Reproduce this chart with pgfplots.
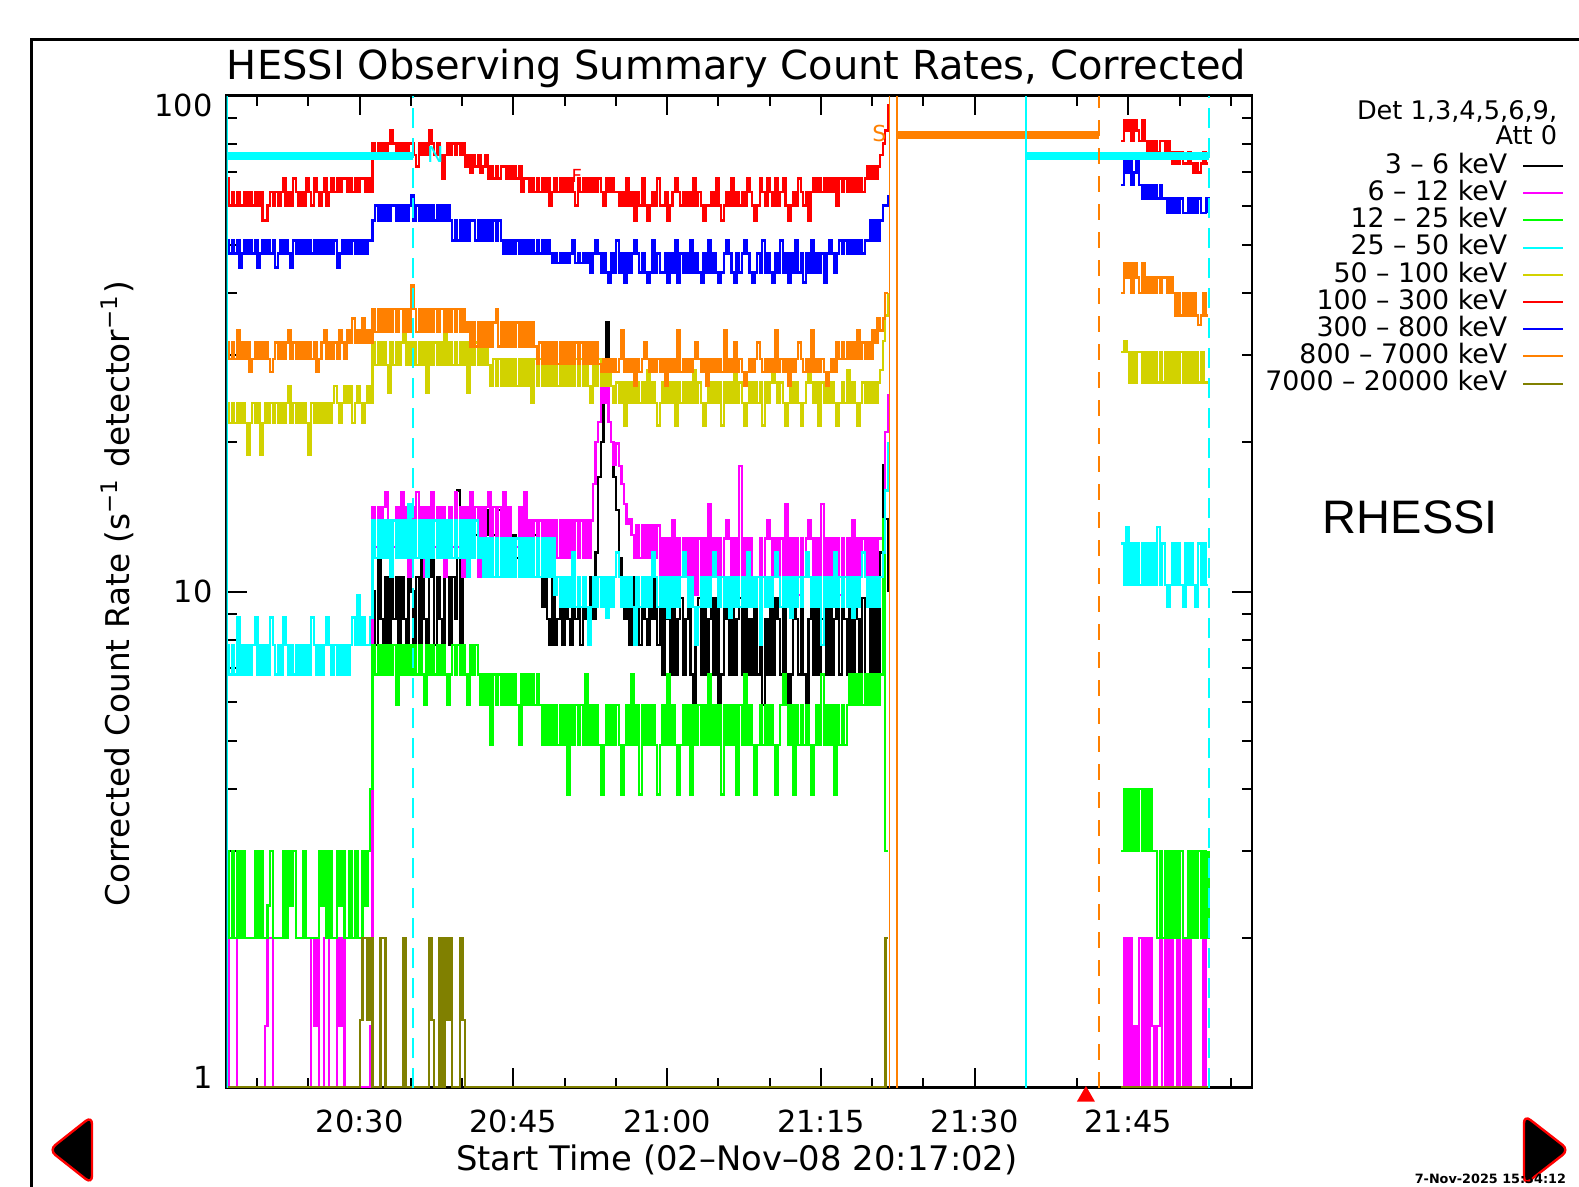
\documentclass[border=0pt]{standalone}
\usepackage{pgfplots}
\pgfplotsset{compat=1.18}
\usepackage{fontspec}
\setmainfont{DejaVu Sans}
\newfontfamily\rhfont{Liberation Sans}
\definecolor{hred}{RGB}{255,0,0}
\definecolor{hblue}{RGB}{0,0,255}
\definecolor{horange}{RGB}{255,128,0}
\definecolor{hyellow}{RGB}{210,210,0}
\definecolor{hcyan}{RGB}{0,255,255}
\definecolor{hmag}{RGB}{255,0,255}
\definecolor{hgreen}{RGB}{0,255,0}
\definecolor{holive}{RGB}{128,128,0}
\begin{document}
\begin{tikzpicture}
\useasboundingbox (0,0) rectangle (394.75pt,296.75pt);
\begin{scope}[x=0.25pt,y=0.25pt]
% outer frame
\draw[line width=0.75pt] (31,-10) -- (31,1147) -- (1600,1147);
% title and labels
\node[anchor=base,inner sep=0pt,font=\fontsize{10}{12}\selectfont] at (736.5,1107) {HESSI Observing Summary Count Rates, Corrected};
\node[anchor=base,inner sep=0pt,font=\fontsize{8.45}{10}\selectfont] at (737,16) {Start Time (02–Nov–08 20:17:02)};
\node[anchor=base,rotate=90,inner sep=0pt,font=\fontsize{8.17}{10}\selectfont] at (129,593) {Corrected Count Rate (s\textsuperscript{−1} detector\textsuperscript{−1})};
% legend
\node[anchor=base east,inner sep=0pt,font=\fontsize{6.4}{7}\selectfont] at (1558,1067) {Det 1,3,4,5,6,9,};
\node[anchor=base east,inner sep=0pt,font=\fontsize{6.4}{7}\selectfont] at (1558,1042) {Att 0};
\foreach \lab/\col [count=\k from 0] in {3 – 6 keV/black,6 – 12 keV/hmag,12 – 25 keV/hgreen,25 – 50 keV/hcyan,50 – 100 keV/hyellow,100 – 300 keV/hred,300 – 800 keV/hblue,800 – 7000 keV/horange,7000 – 20000 keV/holive}{
  \pgfmathsetmacro{\ly}{1187-166-27.2*\k}
  \node[anchor=base east,inner sep=0pt,font=\fontsize{6.7}{7}\selectfont] at (1508,\ly-7.3) {\lab};
  \draw[\col,line width=0.5pt] (1523,\ly) -- (1563,\ly);
}
\node[anchor=base west,inner sep=0pt,font=\rhfont\fontsize{11.75}{13}\selectfont] at (1322,653.3) {RHESSI};
% navigation arrows
\draw[hred,line width=0.6pt,fill=black,rounded corners=2pt] (92,71) -- (49,37) -- (92,3) -- cycle;
\draw[hred,line width=0.6pt,fill=black,rounded corners=2pt] (1524,72) -- (1569,37) -- (1524,2) -- cycle;
\node[anchor=base west,inner sep=0pt,font=\fontsize{3.2}{4}\selectfont\bfseries] at (1414,3) {7-Nov-2025 15:34:12};
\end{scope}
\begin{axis}[
  at={(56.65pt,24.85pt)}, anchor=south west,
  scale only axis, width=256.3pt, height=248pt,
  xmin=17.03, xmax=117.03, ymode=log, ymin=1, ymax=100,
  xtick={30,45,60,75,90,105},
  xticklabels={20:30,20:45,21:00,21:15,21:30,21:45},
  minor xtick={20,25,35,40,50,55,65,70,80,85,95,100,110,115},
  ytick={1,10,100},
  yticklabels={\raisebox{2.5pt}[\height][\depth]{1},10,\raisebox{-2.5pt}[\height][\depth]{100}},
  minor ytick={2,3,4,5,6,7,8,9,20,30,40,50,60,70,80,90},
  tick align=inside, tick pos=both,
  xticklabel pos=lower, yticklabel pos=left,
  major tick length=5pt, minor tick length=2.5pt,
  every tick/.append style={black,line width=0.5pt},
  axis line style={line width=0.55pt},
  ticklabel style={font=\fontsize{7.6}{8}\selectfont},
  xticklabel style={yshift=-2pt},
  every axis plot/.append style={line width=0.6pt},
]
% 3-6 keV (black), from 31.28
\addplot[const plot,black] table[row sep=\\,header=false,x expr=31.28+0.25*\coordindex,y index=0]{
10\\7.8\\11.7\\8.8\\7.8\\10.7\\7.8\\11.7\\8.8\\10.7\\
7.8\\10.7\\8.8\\7.8\\11.7\\10\\7.8\\10.7\\7.8\\11.7\\
8.8\\7.8\\10.7\\11.7\\7.8\\10.7\\8.8\\7.8\\11.7\\10.7\\
7.8\\10.7\\8.8\\16\\7.8\\11.7\\13\\11.7\\14.6\\11.7\\
13\\11.7\\14.6\\11.7\\13\\14.6\\11.7\\13\\11.7\\14.6\\
11.7\\13\\11.7\\14.6\\10.7\\13\\11.7\\14.6\\13\\11.7\\
13\\11.7\\10.7\\13\\11.7\\10.7\\9.3\\10.7\\8.8\\7.8\\
10.7\\7.8\\8.8\\10.7\\7.8\\10.7\\8.8\\7.8\\10.7\\8.8\\
10.7\\7.8\\10.7\\8.8\\7.8\\10.7\\8.8\\12\\17\\20\\
24\\35\\22\\20\\17\\14.6\\11.7\\10.7\\8.8\\10.7\\
7.8\\10.7\\8.8\\10.7\\7.8\\10.7\\8.8\\7.8\\10.7\\8.8\\
10.7\\7.8\\9.7\\6.8\\9.7\\8.8\\6.8\\9.7\\6.8\\8.8\\
9.7\\6.8\\8.8\\9.7\\6.8\\5.9\\8.8\\9.7\\6.8\\9.7\\
6.8\\8.8\\9.7\\6.8\\9.7\\5.9\\6.8\\9.7\\8.8\\6.8\\
9.7\\6.8\\8.8\\9.7\\6.8\\9.7\\6.8\\8.8\\6.8\\9.7\\
6.8\\9.7\\5.9\\8.8\\6.8\\9.7\\6.8\\9.7\\8.8\\6.8\\
9.7\\6.8\\5.9\\6.8\\9.7\\8.8\\6.8\\9.7\\6.8\\5.9\\
8.8\\9.7\\6.8\\9.7\\6.8\\8.8\\9.7\\6.8\\9.7\\6.8\\
8.8\\9.7\\6.8\\9.7\\8.8\\6.8\\9.7\\6.8\\9.7\\8.8\\
6.8\\9.7\\6.8\\5.9\\9.7\\6.8\\9.7\\6.8\\12\\18\\
14\\10\\
};
% 6-12 keV (magenta)
\addplot[const plot,hmag] table[row sep=\\,header=false,x expr=17.03+0.25*\coordindex,y index=0]{
1\\2\\2\\2\\1\\1\\1\\1\\1\\1\\
1\\1\\1\\1\\1\\1.33\\2\\2\\1\\1\\
1\\1\\1\\1\\1\\1\\1\\1\\1\\1\\
1\\1\\1\\2\\1.33\\2\\1\\1\\2\\2\\
1\\1\\1\\2\\1.33\\2\\1\\1\\1\\1\\
1\\1\\1\\1\\1\\1\\1.33\\14.8\\12.3\\14.8\\
12.3\\14.8\\15.9\\12.3\\10.7\\12.3\\14.8\\12.3\\15.9\\12.3\\
14.8\\10.7\\14.8\\12.3\\15.9\\12.3\\14.8\\10.7\\14.8\\12.3\\
15.9\\12.3\\14.8\\12.3\\14.8\\10.7\\12.3\\14.8\\12.3\\15.9\\
12.3\\14.8\\10.7\\14.8\\12.3\\15.9\\12.3\\14.8\\10.7\\14.8\\
12.3\\14.8\\15.9\\12.3\\14.8\\10.7\\14.8\\12.3\\15.9\\12.3\\
14.8\\12.3\\10.7\\12.3\\14.8\\12.3\\15.9\\12.3\\13.9\\11.7\\
13.9\\11.7\\13.9\\11.7\\13.9\\11.7\\13.9\\11.7\\13.9\\11.7\\
13.9\\11.7\\13.9\\11.7\\13.9\\11.7\\13.9\\11.7\\13.9\\11.7\\
13.9\\11.7\\13.9\\16.5\\20\\22\\26\\24\\26\\22\\
20\\18\\19.9\\17.9\\16.5\\15\\13.7\\14\\13\\11.7\\
13.6\\11.7\\13.6\\11.7\\13.6\\11.7\\13.6\\11.7\\13.6\\10.7\\
12.8\\10.7\\12.8\\10.7\\13.9\\10.7\\12.8\\10.7\\12.8\\10.7\\
12.8\\10.7\\12.8\\9.85\\12.8\\10.7\\12.8\\10.7\\15\\10.7\\
12.8\\10.7\\12.8\\10.7\\12.8\\13.9\\12.8\\10.7\\12.8\\10.7\\
17.9\\10.7\\12.8\\10.7\\12.8\\10.7\\9.85\\10.7\\12.8\\10.7\\
12.8\\13.9\\12.8\\10.7\\12.8\\10.7\\12.8\\10.7\\15\\10.7\\
12.8\\10.7\\12.8\\9.85\\12.8\\10.7\\12.8\\13.9\\12.8\\10.7\\
12.8\\10.7\\15\\10.7\\12.8\\10.7\\12.8\\10.7\\12.8\\9.85\\
12.8\\10.7\\12.8\\10.7\\13.9\\10.7\\12.8\\10.7\\12.8\\10.7\\
12.8\\10.7\\12.8\\10.7\\12.8\\12.8\\14\\21\\25\\
};
\addplot[const plot,hmag] table[row sep=\\,header=false,x expr=104.3+0.25*\coordindex,y index=0]{
1\\2\\1\\2\\1\\1.33\\1\\2\\1\\2\\
1\\2\\1.33\\1\\1.33\\2\\1\\2\\1\\2\\
1\\1\\2\\1\\2\\1\\2\\1\\1\\1\\
1\\1\\2\\1\\1\\
};
% 12-25 keV (green)
\addplot[const plot,hgreen] table[row sep=\\,header=false,x expr=17.03+0.25*\coordindex,y index=0]{
3\\2\\3\\2\\3\\2\\3\\2\\2\\2\\
2\\3\\2\\3\\2\\2\\2.33\\3\\2\\2\\
2\\2\\3\\2\\3\\2.33\\3\\2\\2\\2\\
3\\2\\2\\2\\2\\2\\3\\2.33\\3\\2\\
3\\2\\2\\3\\2.33\\3\\2\\2\\3\\2\\
3\\2\\2\\3\\2.33\\3\\4\\7.8\\6.8\\7.8\\
6.8\\7.8\\6.8\\7.8\\6.8\\7.8\\5.9\\7.8\\6.8\\7.8\\
6.8\\7.8\\6.8\\7.8\\6.8\\7.8\\6.8\\5.9\\7.8\\6.8\\
7.8\\6.8\\7.8\\6.8\\7.8\\6.8\\5.9\\6.8\\7.8\\6.8\\
7.8\\6.8\\7.8\\6.8\\5.9\\7.8\\6.8\\7.8\\6.8\\5.9\\
6.8\\5.9\\6.8\\4.9\\6.8\\5.9\\6.8\\5.9\\6.8\\5.9\\
6.8\\5.9\\6.8\\5.9\\4.9\\6.8\\5.9\\6.8\\5.9\\6.8\\
5.9\\6.8\\5.9\\4.9\\5.9\\4.9\\5.9\\4.9\\5.9\\4.9\\
5.9\\4.9\\5.9\\3.9\\5.9\\4.9\\5.9\\4.9\\5.9\\4.9\\
6.8\\4.9\\5.9\\4.9\\5.9\\4.9\\3.9\\4.9\\5.9\\4.9\\
5.9\\4.9\\5.9\\4.9\\3.9\\4.9\\5.9\\4.9\\6.8\\4.9\\
5.9\\3.9\\5.9\\4.9\\5.9\\4.9\\5.9\\4.9\\3.9\\4.9\\
5.9\\4.9\\6.8\\4.9\\5.9\\4.9\\3.9\\4.9\\5.9\\4.9\\
5.9\\3.9\\5.9\\4.9\\5.9\\4.9\\5.9\\4.9\\6.8\\4.9\\
5.9\\4.9\\5.9\\3.9\\5.9\\4.9\\5.9\\4.9\\5.9\\3.9\\
5.9\\4.9\\6.8\\4.9\\5.9\\4.9\\3.9\\4.9\\5.9\\4.9\\
5.9\\4.9\\5.9\\4.9\\3.9\\4.9\\5.9\\6.8\\5.9\\4.9\\
5.9\\3.9\\5.9\\4.9\\5.9\\4.9\\5.9\\4.9\\3.9\\4.9\\
5.9\\4.9\\6.8\\4.9\\5.9\\4.9\\5.9\\3.9\\5.9\\4.9\\
5.9\\4.9\\5.9\\6.8\\5.9\\6.8\\5.9\\6.8\\5.9\\6.8\\
5.9\\6.8\\5.9\\6.8\\5.9\\6.8\\14\\3\\3\\
};
\addplot[const plot,hgreen] table[row sep=\\,header=false,x expr=104.3+0.25*\coordindex,y index=0]{
3\\4\\3\\4\\3\\4\\3\\4\\3\\4\\
3\\4\\3\\3\\2\\3\\2\\3\\2\\3\\
2\\3\\2\\3\\2\\2\\3\\2\\3\\2\\
3\\2\\3\\2\\3\\
};
% 25-50 keV (cyan)
\addplot[const plot,hcyan] table[row sep=\\,header=false,x expr=17.03+0.25*\coordindex,y index=0]{
7.8\\6.8\\7.8\\6.8\\8.86\\6.8\\7.8\\6.8\\7.8\\6.8\\
7.8\\8.86\\6.8\\7.8\\6.8\\7.8\\6.8\\8.86\\7.8\\6.8\\
7.8\\6.8\\8.86\\7.8\\6.8\\7.8\\6.8\\7.8\\6.8\\7.8\\
6.8\\7.8\\6.8\\8.86\\7.8\\6.8\\7.8\\6.8\\7.8\\8.86\\
7.8\\6.8\\7.8\\6.8\\7.8\\6.8\\7.8\\6.8\\7.8\\8.86\\
7.8\\9.85\\7.8\\8.86\\7.8\\7.8\\8.86\\13.9\\11.7\\13.9\\
11.7\\13.9\\11.7\\13.9\\10.7\\13.9\\11.7\\13.9\\11.7\\13.9\\
11.7\\15\\11.7\\13.9\\11.7\\13.9\\11.7\\13.9\\10.7\\13.9\\
11.7\\13.9\\11.7\\13.9\\11.7\\13.9\\11.7\\13.9\\11.7\\13.9\\
11.7\\13.9\\11.7\\13.9\\10.7\\13.9\\11.7\\13.9\\11.7\\12.8\\
10.7\\12.8\\10.7\\12.8\\10.7\\12.8\\10.7\\12.8\\10.7\\12.8\\
10.7\\12.8\\10.7\\12.8\\10.7\\12.8\\10.7\\12.8\\10.7\\12.8\\
10.7\\12.8\\10.7\\12.8\\10.7\\12.8\\10.7\\12.8\\9.85\\10.7\\
9.3\\10.7\\9.3\\10.7\\9.3\\12\\9.3\\10.7\\9.3\\10.7\\
9.3\\7.8\\9.3\\10.7\\9.3\\10.7\\9.3\\10.7\\8.86\\10.7\\
9.3\\10.7\\12\\10.7\\9.3\\10.7\\9.3\\10.7\\9.3\\7.8\\
10.7\\9.3\\10.7\\9.3\\10.7\\9.3\\12\\10.7\\9.3\\10.7\\
9.3\\10.7\\8.86\\10.7\\9.3\\10.7\\9.3\\10.7\\12\\10.7\\
9.3\\10.7\\9.3\\7.8\\9.3\\10.7\\9.3\\10.7\\9.3\\10.7\\
12\\10.7\\9.3\\10.7\\9.3\\10.7\\8.86\\10.7\\9.3\\10.7\\
9.3\\10.7\\9.3\\12\\9.3\\10.7\\9.3\\10.7\\7.8\\10.7\\
9.3\\10.7\\9.3\\10.7\\12\\10.7\\9.3\\10.7\\9.3\\10.7\\
8.86\\10.7\\9.3\\10.7\\9.3\\10.7\\12\\10.7\\9.3\\10.7\\
9.3\\10.7\\7.8\\10.7\\9.3\\10.7\\9.3\\12\\9.3\\10.7\\
9.3\\10.7\\9.3\\10.7\\8.86\\10.7\\9.3\\10.7\\12\\10.7\\
9.3\\10.7\\9.3\\10.7\\9.3\\10.7\\12\\16\\20\\
};
\addplot[const plot,hcyan] table[row sep=\\,header=false,x expr=104.3+0.25*\coordindex,y index=0]{
12.5\\10.3\\13.5\\10.3\\12.5\\10.3\\12.5\\10.3\\12.5\\10.3\\
12.5\\10.3\\12.5\\10.3\\13.5\\10.3\\12.5\\10.3\\9.3\\10.3\\
12.5\\10.3\\12.5\\10.3\\9.3\\12.5\\10.3\\12.5\\10.3\\9.3\\
12.5\\10.3\\12.5\\10.3\\10.3\\
};
% 50-100 keV (yellow)
\addplot[const plot,hyellow] table[row sep=\\,header=false,x expr=17.03+0.25*\coordindex,y index=0]{
24\\21.9\\24\\21.9\\24\\21.9\\24\\21.9\\18.9\\21.9\\
24\\21.9\\24\\18.9\\21.9\\24\\21.9\\24\\21.9\\24\\
21.9\\24\\21.9\\24\\26\\21.9\\24\\21.9\\24\\21.9\\
24\\21.9\\18.9\\24\\21.9\\24\\21.9\\24\\21.9\\24\\
21.9\\24\\26\\24\\21.9\\24\\26\\24\\26\\21.9\\
24\\26\\24\\21.9\\24\\26\\24\\31.8\\28.6\\31.8\\
28.6\\31.8\\28.6\\25.2\\31.8\\28.6\\31.8\\28.6\\31.8\\33.2\\
28.6\\31.8\\28.6\\31.8\\28.6\\31.8\\28.6\\31.8\\25.2\\31.8\\
28.6\\31.8\\28.6\\31.8\\28.6\\33.2\\28.6\\31.8\\28.6\\31.8\\
28.6\\31.8\\28.6\\31.8\\25.2\\31.8\\28.6\\31.8\\28.6\\31.8\\
28.6\\31.8\\28.6\\26\\29.4\\26\\29.4\\26\\29.4\\26\\
29.4\\26\\29.4\\26\\29.4\\26\\29.4\\26\\29.4\\24\\
29.4\\26\\29.4\\26\\29.4\\26\\29.4\\26\\29.4\\26\\
29.4\\26\\29.4\\26\\29.4\\26\\29.4\\26\\29.4\\26\\
29.4\\26\\24\\29.4\\26\\29.4\\26\\29.4\\26\\29.4\\
26\\24\\26.4\\24\\26.4\\21.6\\26.4\\24\\26.4\\24\\
26.4\\24\\26.4\\24\\28\\24\\26.4\\24\\21.6\\24\\
26.4\\24\\26.4\\24\\26.4\\21.6\\26.4\\24\\26.4\\24\\
26.4\\24\\28\\24\\26.4\\24\\21.6\\24\\26.4\\24\\
26.4\\24\\26.4\\21.6\\26.4\\24\\26.4\\24\\28\\24\\
26.4\\24\\21.6\\24\\26.4\\24\\26.4\\24\\26.4\\21.6\\
26.4\\24\\26.4\\28\\26.4\\24\\26.4\\24\\21.6\\24\\
26.4\\24\\26.4\\24\\21.6\\24\\26.4\\28\\26.4\\24\\
26.4\\21.6\\26.4\\24\\26.4\\24\\26.4\\24\\21.6\\24\\
26.4\\24\\28\\24\\26.4\\24\\21.6\\24\\26.4\\24\\
26.4\\24\\26.4\\24\\26.4\\28\\32\\36\\40\\
};
\addplot[const plot,hyellow] table[row sep=\\,header=false,x expr=104.3+0.25*\coordindex,y index=0]{
30.4\\32\\30.4\\26.4\\30.4\\26.4\\30.4\\30.4\\26.4\\30.4\\
26.4\\30.4\\26.4\\30.4\\26.4\\30.4\\26.4\\30.4\\26.4\\30.4\\
26.4\\30.4\\26.4\\30.4\\26.4\\30.4\\26.4\\30.4\\26.4\\30.4\\
26.4\\30.4\\26.4\\26.4\\26.4\\
};
% 100-300 keV (red)
\addplot[const plot,hred] table[row sep=\\,header=false,x expr=17.03+0.25*\coordindex,y index=0]{
68\\60\\64\\60\\64\\60\\60\\64\\60\\64\\
60\\64\\60\\64\\56\\56\\60\\64\\60\\64\\
60\\64\\68\\60\\64\\60\\68\\64\\60\\64\\
60\\68\\64\\60\\68\\64\\60\\64\\68\\60\\
64\\68\\64\\68\\64\\68\\68\\64\\68\\64\\
68\\64\\68\\68\\64\\68\\64\\80\\76\\80\\
76\\80\\76\\80\\85\\80\\76\\80\\76\\80\\
76\\80\\80\\76\\72\\80\\76\\80\\76\\85\\
80\\76\\80\\76\\68\\76\\80\\76\\80\\76\\
80\\76\\80\\72\\76\\70\\76\\72\\76\\70\\
72\\76\\68\\72\\68\\72\\68\\72\\72\\68\\
72\\68\\72\\68\\72\\64\\68\\68\\64\\68\\
64\\68\\64\\68\\64\\68\\60\\64\\68\\64\\
68\\64\\68\\64\\68\\64\\60\\68\\64\\68\\
64\\68\\64\\68\\64\\68\\64\\60\\68\\64\\
68\\64\\64\\60\\64\\60\\68\\60\\64\\56\\
64\\60\\68\\60\\56\\60\\64\\60\\68\\60\\
60\\64\\56\\60\\64\\68\\64\\60\\64\\60\\
64\\60\\68\\60\\64\\60\\56\\60\\60\\64\\
60\\68\\60\\56\\60\\64\\60\\68\\60\\64\\
60\\64\\60\\68\\64\\60\\56\\60\\68\\64\\
60\\68\\64\\60\\68\\60\\64\\68\\60\\56\\
60\\64\\60\\68\\64\\60\\64\\56\\64\\68\\
64\\68\\64\\68\\64\\68\\64\\68\\60\\68\\
64\\68\\64\\68\\64\\68\\64\\68\\64\\68\\
72\\68\\72\\68\\72\\76\\80\\85\\96\\
};
\addplot[const plot,hred] table[row sep=\\,header=false,x expr=104.3+0.25*\coordindex,y index=0]{
81\\89\\85\\89\\81\\89\\85\\81\\89\\81\\
77\\81\\77\\81\\77\\81\\81\\77\\81\\77\\
73\\77\\73\\77\\73\\73\\77\\73\\70\\73\\
70\\73\\77\\73\\73\\
};
% 300-800 keV (blue)
\addplot[const plot,hblue] table[row sep=\\,header=false,x expr=17.03+0.25*\coordindex,y index=0]{
51\\48\\51\\48\\51\\45\\48\\51\\48\\51\\
48\\51\\45\\48\\51\\48\\51\\48\\51\\45\\
48\\51\\48\\51\\48\\45\\51\\48\\51\\48\\
51\\48\\51\\48\\51\\48\\51\\48\\51\\48\\
51\\48\\51\\45\\48\\51\\48\\51\\48\\51\\
48\\51\\48\\51\\48\\51\\51\\56\\60\\56\\
60\\56\\60\\56\\60\\60\\56\\60\\56\\60\\
56\\60\\63\\56\\60\\56\\60\\56\\60\\56\\
60\\56\\60\\56\\60\\56\\60\\56\\51\\56\\
51\\56\\51\\56\\51\\56\\56\\51\\56\\51\\
56\\51\\56\\51\\56\\51\\56\\51\\48\\51\\
48\\51\\48\\51\\48\\51\\48\\51\\48\\51\\
48\\51\\48\\51\\48\\51\\48\\46\\48\\46\\
48\\46\\48\\46\\48\\51\\46\\48\\46\\48\\
46\\48\\44\\48\\51\\48\\44\\48\\44\\42\\
48\\44\\51\\44\\48\\42\\48\\44\\48\\51\\
48\\44\\48\\44\\42\\44\\51\\44\\48\\44\\
44\\48\\42\\48\\44\\51\\42\\48\\44\\48\\
44\\51\\44\\48\\44\\42\\48\\44\\51\\44\\
48\\44\\42\\44\\48\\51\\48\\44\\42\\48\\
44\\48\\51\\48\\44\\42\\44\\48\\44\\51\\
44\\48\\44\\42\\48\\44\\51\\44\\48\\42\\
48\\44\\51\\44\\48\\42\\48\\44\\51\\44\\
48\\44\\48\\42\\48\\51\\48\\44\\48\\51\\
48\\51\\48\\51\\48\\51\\48\\51\\48\\51\\
51\\56\\51\\56\\51\\56\\60\\60\\63\\
};
\addplot[const plot,hblue] table[row sep=\\,header=false,x expr=104.3+0.25*\coordindex,y index=0]{
66\\74\\70\\74\\66\\70\\74\\66\\62\\66\\
62\\66\\62\\66\\62\\66\\62\\62\\58\\62\\
58\\62\\58\\62\\58\\58\\62\\58\\62\\58\\
62\\58\\58\\62\\58\\
};
% 800-7000 keV (orange)
\addplot[const plot,horange] table[row sep=\\,header=false,x expr=17.03+0.25*\coordindex,y index=0]{
31.8\\29.4\\31.8\\29.4\\33.6\\29.4\\31.8\\29.4\\31.8\\27.7\\
29.4\\31.8\\29.4\\31.8\\29.4\\31.8\\29.4\\27.7\\29.4\\31.8\\
29.4\\31.8\\29.4\\31.8\\33.6\\29.4\\31.8\\29.4\\31.8\\29.4\\
31.8\\29.4\\31.8\\29.4\\31.8\\27.7\\29.4\\31.8\\33.6\\29.4\\
31.8\\29.4\\31.8\\29.4\\33.6\\31.8\\29.4\\33.6\\31.8\\35.5\\
31.8\\33.6\\31.8\\35.5\\31.8\\33.6\\31.8\\37.1\\33.4\\37.1\\
33.4\\37.1\\33.4\\37.1\\33.4\\37.1\\33.4\\37.1\\37.1\\33.4\\
37.1\\33.4\\41.5\\37.1\\33.4\\37.1\\33.4\\37.1\\33.4\\37.1\\
33.4\\37.1\\33.4\\37.1\\37.1\\33.4\\37.1\\33.4\\37.1\\33.4\\
37.1\\33.4\\37.1\\33.4\\34.9\\31.2\\34.9\\31.2\\34.9\\31.2\\
34.9\\31.2\\34.9\\31.2\\34.9\\37.1\\31.2\\34.9\\31.2\\34.9\\
31.2\\34.9\\31.2\\34.9\\31.2\\34.9\\31.2\\34.9\\31.2\\34.9\\
31.2\\28.8\\31.8\\28.8\\31.8\\28.8\\31.8\\28.8\\31.8\\28.8\\
31.8\\28.8\\31.8\\28.8\\31.8\\28.8\\31.8\\28.8\\31.8\\28.8\\
31.8\\28.8\\31.8\\28.8\\31.8\\28.8\\27.7\\29.4\\27.7\\29.4\\
27.7\\29.4\\27.7\\29.4\\33.6\\27.7\\29.4\\27.7\\29.4\\26\\
29.4\\27.7\\29.4\\31.8\\29.4\\27.7\\29.4\\27.7\\29.4\\27.7\\
29.4\\26\\29.4\\27.7\\29.4\\27.7\\33.6\\27.7\\29.4\\27.7\\
29.4\\27.7\\29.4\\31.8\\29.4\\27.7\\29.4\\26\\29.4\\27.7\\
29.4\\27.7\\29.4\\27.7\\33.6\\27.7\\29.4\\27.7\\31.8\\27.7\\
29.4\\27.7\\26\\27.7\\29.4\\27.7\\29.4\\31.8\\29.4\\27.7\\
29.4\\27.7\\29.4\\27.7\\33.6\\27.7\\29.4\\27.7\\29.4\\26\\
29.4\\27.7\\29.4\\31.8\\29.4\\27.7\\29.4\\27.7\\33.6\\27.7\\
29.4\\27.7\\29.4\\27.7\\26\\27.7\\29.4\\27.7\\31.8\\29.4\\
31.8\\29.4\\31.8\\29.4\\31.8\\29.4\\33.6\\29.4\\31.8\\29.4\\
31.8\\29.4\\33.6\\31.8\\35.5\\33.6\\35.5\\40\\40\\
};
\addplot[const plot,horange] table[row sep=\\,header=false,x expr=104.3+0.25*\coordindex,y index=0]{
40\\46\\43\\46\\40\\46\\43\\40\\46\\40\\
43\\40\\43\\40\\43\\40\\43\\43\\40\\43\\
40\\36\\40\\36\\40\\36\\40\\36\\40\\36\\
34.5\\36\\40\\36\\36\\
};
% 7000-20000 keV (olive)
\addplot[const plot,holive] coordinates {
(17.03,1) (30.03,1.37) (30.28,2) (30.78,1.37) (31.03,2) (31.28,1)
(32.03,2) (32.53,1) (34.28,2) (34.53,1) (36.78,2) (37.03,1.37) (37.28,1)
(37.78,2) (38.03,1) (38.28,2) (38.53,1.37) (38.78,2) (39.03,1)
(39.78,2) (40.03,1.37) (40.28,1) (81.28,1) (81.3,2) (81.55,2)
};
\addplot[const plot,holive] coordinates {(104.3,1) (112.8,1)};
% instrument state overlays
\draw[hcyan,line width=2pt] (axis cs:17.03,75.5) -- (axis cs:35.2,75.5);
\draw[hcyan,line width=2pt] (axis cs:95.02,75.5) -- (axis cs:112.85,75.5);
\draw[horange,line width=2pt] (axis cs:82.45,83.1) -- (axis cs:102.1,83.1);
\draw[hcyan,line width=0.5pt] (axis cs:17.08,1) -- (axis cs:17.08,100);
\draw[hcyan,line width=0.5pt] (axis cs:95.02,1) -- (axis cs:95.02,100);
\draw[hcyan,line width=0.5pt,dash pattern=on 5pt off 2.5pt] (axis cs:35.2,1) -- (axis cs:35.2,100);
\draw[hcyan,line width=0.5pt,dash pattern=on 5pt off 2.5pt] (axis cs:112.85,1) -- (axis cs:112.85,100);
\draw[horange,line width=0.45pt] (axis cs:81.7,1) -- (axis cs:81.7,100);
\draw[horange,line width=0.55pt] (axis cs:82.45,1) -- (axis cs:82.45,100);
\draw[horange,line width=0.5pt,dash pattern=on 4pt off 3pt] (axis cs:102.1,1) -- (axis cs:102.1,100);
\node[hcyan,inner sep=0pt,font=\fontsize{5.5}{6}\selectfont] at (axis cs:37.4,76) {N};
\node[horange,inner sep=0pt,font=\fontsize{5.5}{6}\selectfont] at (axis cs:80.7,84) {S};
\node[hred,inner sep=0pt,font=\fontsize{4.5}{5}\selectfont] at (axis cs:51.2,69) {F};
% red triangle marker under the time axis
\addplot[only marks,mark=triangle*,mark size=2pt,hred,mark options={yshift=-2.2pt}] coordinates {(100.85,1)};
\end{axis}
\end{tikzpicture}
\end{document}
